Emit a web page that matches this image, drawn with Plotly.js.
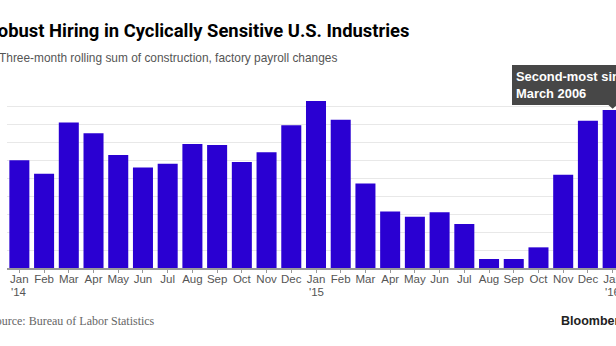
<!DOCTYPE html>
<html>
<head>
<meta charset="utf-8">
<script src="https://cdn.plot.ly/plotly-3.0.1.min.js"></script>
<style>
html,body{margin:0;padding:0;overflow:hidden;background:#fff;width:616px;height:346px;}
#wrap{position:relative;width:616px;height:346px;overflow:hidden;}
#chart{position:absolute;left:-20px;top:0;width:700px;height:346px;}
</style>
</head>
<body>
<div id="wrap"><div id="chart"></div></div>
<script>
// ---- data ----
const months = ["2014-01","2014-02","2014-03","2014-04","2014-05","2014-06","2014-07","2014-08","2014-09","2014-10","2014-11","2014-12",
                "2015-01","2015-02","2015-03","2015-04","2015-05","2015-06","2015-07","2015-08","2015-09","2015-10","2015-11","2015-12","2016-01"];
const monthLabels = ["Jan","Feb","Mar","Apr","May","Jun","Jul","Aug","Sep","Oct","Nov","Dec",
                     "Jan","Feb","Mar","Apr","May","Jun","Jul","Aug","Sep","Oct","Nov","Dec","Jan"];
const yearAt = ["2014-01","2015-01","2016-01"];
const yearLabels = ["'14","'15","'16"];
const payrollSum = [120,105,162,150,126,112,116,138,137,118,129,159,
                    186,165,94,63,57,62,49,10,10,23,104,164,176];
const titleText = "Robust Hiring in Cyclically Sensitive U.S. Industries";
const subtitleText = "Three-month rolling sum of construction, factory payroll changes";
const sourceText = "Source: Bureau of Labor Statistics";
const noteText = "Second-most since<br>March 2006";

// ---- layout geometry ----
const OFF = 20, W = 700, H = 346;
const ml = 26.6, plotW = 618.3, mr = W - ml - plotW;
const mt = 87.85, plotH = 179.85, mb = H - mt - plotH;
const px = x => (x + OFF - ml) / plotW;      // page x -> paper
const py = y => 1 - (y - mt) / plotH;        // page y -> paper

const lastIdx = months.length - 1;
const tickFont = {family: 'Liberation Sans, Arial, sans-serif', size: 11.5, color: '#555'};

const data = [{
  type: 'bar',
  x: months,
  y: payrollSum,
  marker: {color: '#2a00d2', line: {width: 0}},
  hoverinfo: 'skip'
}];

const annotations = [
  {xref: 'paper', yref: 'paper', x: px(-16.5), y: py(30), xanchor: 'left', yanchor: 'middle',
   text: '<b>' + titleText + '</b>', showarrow: false,
   font: {family: 'Roboto, Liberation Sans, sans-serif', size: 18.4, color: '#000'}},
  {xref: 'paper', yref: 'paper', x: px(-3), y: py(58), xanchor: 'left', yanchor: 'middle',
   text: subtitleText, showarrow: false,
   font: {family: 'Liberation Sans, Arial, sans-serif', size: 11.9, color: '#555'}},
  {xref: 'paper', yref: 'paper', x: px(-13), y: py(321), xanchor: 'left', yanchor: 'middle',
   text: sourceText, showarrow: false,
   font: {family: 'Liberation Serif, serif', size: 12, color: '#666'}},
  {xref: 'paper', yref: 'paper', x: px(559), y: py(321), xanchor: 'left', yanchor: 'middle',
   text: '<b>Bloomberg</b>', showarrow: false,
   font: {family: 'Liberation Sans, Arial, sans-serif', size: 12.5, color: '#222'}},
  {xref: 'x', yref: 'y', x: months[lastIdx], y: payrollSum[lastIdx],
   xanchor: 'left', yanchor: 'bottom', xshift: -100.6, yshift: 5,
   text: '<b>' + noteText + '</b>', align: 'left', showarrow: false,
   bgcolor: '#474747', borderpad: 4, borderwidth: 0,
   font: {family: 'Liberation Sans, Arial, sans-serif', size: 12.9, color: '#fff'}}
];
yearAt.forEach((m, i) => annotations.push({
  xref: 'x', yref: 'paper', x: m, y: py(291.5), xanchor: 'center', yanchor: 'middle',
  xshift: 0, text: yearLabels[i], showarrow: false, font: tickFont
}));

const layout = {
  width: W, height: H,
  margin: {l: ml, r: mr, t: mt, b: mb, pad: 0},
  paper_bgcolor: '#fff', plot_bgcolor: '#fff',
  showlegend: false,
  bargap: 0.19,
  xaxis: {
    type: 'category',
    range: [-0.5, months.length - 0.5],
    tickvals: months, ticktext: monthLabels,
    tickfont: tickFont,
    ticks: 'outside', ticklen: 3, tickcolor: '#999', tickwidth: 1,
    ticklabelstandoff: -3,
    showline: true, linecolor: '#999', linewidth: 1.5,
    showgrid: false, zeroline: false, fixedrange: true
  },
  yaxis: {
    range: [0, 200.5],
    dtick: 20, tick0: 0,
    showticklabels: false,
    showgrid: true, gridcolor: '#e8e8e8', gridwidth: 1,
    zeroline: false, showline: false, ticks: '', fixedrange: true
  },
  annotations: annotations,
  shapes: [
    {type: 'path', xref: 'x', yref: 'y', xsizemode: 'pixel', ysizemode: 'pixel',
     xanchor: months[lastIdx], yanchor: payrollSum[lastIdx],
     path: 'M -4.5 5.3 L 4.5 5.3 L 0 1.3 Z',
     fillcolor: '#474747', line: {width: 0}}
  ]
};

Plotly.newPlot('chart', data, layout, {staticPlot: true, displayModeBar: false});
</script>
</body>
</html>
